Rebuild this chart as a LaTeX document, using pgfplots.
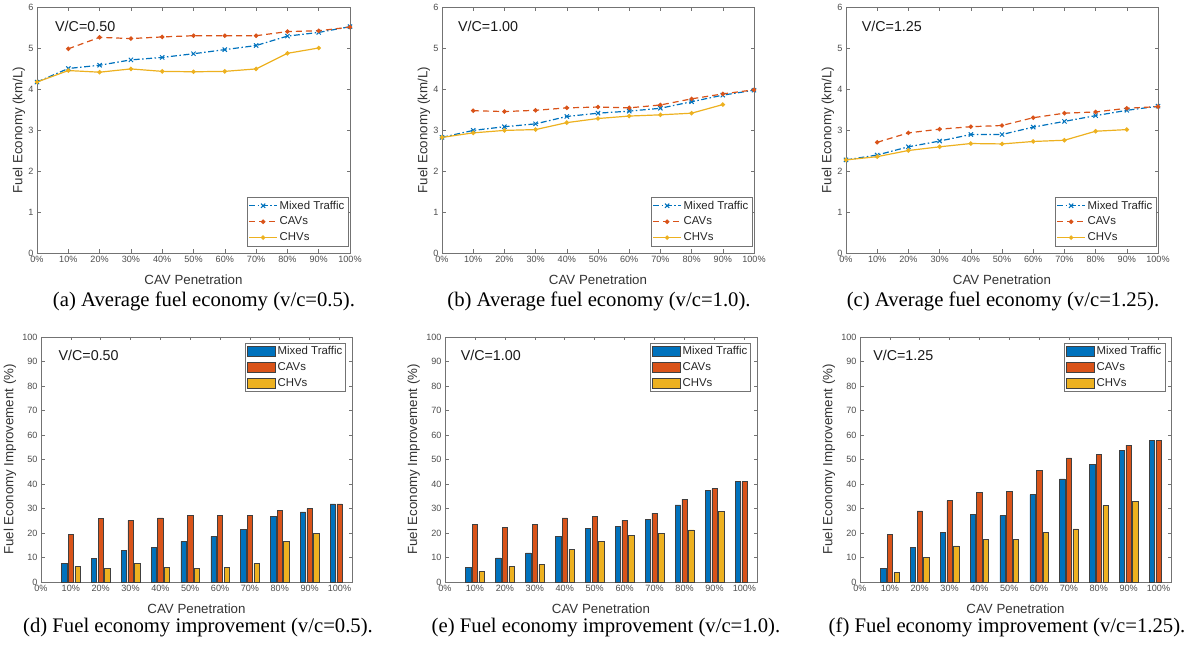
\documentclass[border=0pt]{standalone}
\usepackage{fontspec}
\setmainfont{Liberation Serif}
\newfontfamily\arial{Liberation Sans}
\usepackage{pgfplots}
\pgfplotsset{compat=1.18}

\definecolor{mblue}{rgb}{0,0.447,0.741}
\definecolor{morange}{rgb}{0.85,0.325,0.098}
\definecolor{myellow}{rgb}{0.929,0.694,0.125}

\tikzset{vclabel/.style={anchor=west, inner sep=0pt, font=\arial\fontsize{14.3}{16}\selectfont, text=black!90}}

\pgfplotsset{
  common/.style={
    scale only axis, anchor=south west, xmin=0,
    xtick={0,1,...,10},
    xticklabels={0\%,10\%,20\%,30\%,40\%,50\%,60\%,70\%,80\%,90\%,100\%},
    /pgf/number format/assume math mode=true,
    tick label style={font=\arial\fontsize{9.1}{10}\selectfont, text=black!70},
    xlabel={CAV Penetration},
    every axis x label/.style={at={(axis description cs:0.5,-0.11)}, anchor=center, font=\arial\fontsize{13.3}{15}\selectfont, text=black!80},
    axis line style={black!55, line width=0.6pt},
    tick style={black!55, line width=0.6pt},
    major tick length=3.5pt,
    legend style={font=\arial\fontsize{11.4}{13}\selectfont, text=black!85, draw=black!55, line width=0.6pt, cells={anchor=west}, inner xsep=1.5pt, inner ysep=1.5pt, row sep=2.4pt},
  },
  linep/.style={common, xmax=10, ymin=0, ymax=6, ytick={0,...,6}, height=246pt,
    ylabel={Fuel Economy (km/L)},
    every axis y label/.style={at={(axis description cs:-0.058,0.5)}, rotate=90, anchor=center, font=\arial\fontsize{13.3}{15}\selectfont, text=black!80},
    legend style={at={(rel axis cs:0.994,0.028)}, anchor=south east},
    legend image code/.code={\draw[#1,mark repeat=2,mark phase=2] plot coordinates {(0pt,0pt) (14pt,0pt) (28pt,0pt)};},
  },
  barp/.style={common, xmax=10.42, ymin=0, ymax=100, ytick={0,10,...,100}, height=245pt,
    ylabel={Fuel Economy Improvement (\%)},
    every axis y label/.style={at={(axis description cs:-0.10,0.5)}, rotate=90, anchor=center, font=\arial\fontsize{13.3}{15}\selectfont, text=black!80},
    legend style={at={(rel axis cs:0.981,0.976)}, anchor=north east},
  },
  mixed/.style={color=mblue, line width=1.2pt, dash pattern=on 6pt off 2.5pt on 1.5pt off 2.5pt, mark=x, mark size=3pt, mark options={solid, line width=1pt}},
  cav/.style={color=morange, line width=1.2pt, dash pattern=on 6pt off 4pt, mark=*, mark size=1.6pt, mark options={solid}},
  chv/.style={color=myellow, line width=1.2pt, solid, mark=*, mark size=1.6pt},
  myarealegend/.style={legend image code/.code={\draw[##1] (0pt,-5pt) rectangle (28pt,5pt);}},
  bmix/.style={ybar, bar width=0.178, bar shift=-0.222, fill=mblue, draw=black!75, line width=0.5pt, myarealegend},
  bcav/.style={ybar, bar width=0.178, bar shift=0, fill=morange, draw=black!75, line width=0.5pt, myarealegend},
  bchv/.style={ybar, bar width=0.178, bar shift=0.222, fill=myellow, draw=black!75, line width=0.5pt, myarealegend},
}

\begin{document}
\begin{tikzpicture}
\useasboundingbox (0,0) rectangle (1201pt,648pt);

% (a)
\begin{axis}[linep, at={(37pt,395pt)}, width=313pt]
\addplot[mixed] coordinates {(0,4.17)(1,4.50)(2,4.58)(3,4.71)(4,4.77)(5,4.86)(6,4.96)(7,5.06)(8,5.29)(9,5.38)(10,5.52)};
\addplot[cav] coordinates {(1,4.98)(2,5.26)(3,5.23)(4,5.27)(5,5.30)(6,5.30)(7,5.30)(8,5.40)(9,5.42)(10,5.51)};
\addplot[chv] coordinates {(0,4.17)(1,4.45)(2,4.41)(3,4.49)(4,4.43)(5,4.42)(6,4.43)(7,4.49)(8,4.87)(9,5.00)};
\legend{Mixed Traffic,CAVs,CHVs}
\node[vclabel] at (rel axis cs:0.0575,0.923) {V/C=0.50};
\end{axis}

% (b)
\begin{axis}[linep, at={(442pt,395pt)}, width=312pt]
\addplot[mixed] coordinates {(0,2.82)(1,2.99)(2,3.08)(3,3.15)(4,3.33)(5,3.41)(6,3.46)(7,3.53)(8,3.69)(9,3.85)(10,3.97)};
\addplot[cav] coordinates {(1,3.47)(2,3.45)(3,3.48)(4,3.54)(5,3.56)(6,3.54)(7,3.61)(8,3.76)(9,3.88)(10,3.98)};
\addplot[chv] coordinates {(0,2.82)(1,2.93)(2,2.99)(3,3.01)(4,3.18)(5,3.28)(6,3.34)(7,3.37)(8,3.41)(9,3.62)};
\legend{Mixed Traffic,CAVs,CHVs}
\node[vclabel] at (rel axis cs:0.051,0.923) {V/C=1.00};
\end{axis}

% (c)
\begin{axis}[linep, at={(846pt,395pt)}, width=312pt]
\addplot[mixed] coordinates {(0,2.27)(1,2.39)(2,2.59)(3,2.73)(4,2.89)(5,2.89)(6,3.07)(7,3.21)(8,3.35)(9,3.48)(10,3.58)};
\addplot[cav] coordinates {(1,2.70)(2,2.93)(3,3.02)(4,3.08)(5,3.11)(6,3.30)(7,3.41)(8,3.44)(9,3.53)(10,3.57)};
\addplot[chv] coordinates {(0,2.27)(1,2.35)(2,2.50)(3,2.59)(4,2.67)(5,2.66)(6,2.72)(7,2.75)(8,2.97)(9,3.01)};
\legend{Mixed Traffic,CAVs,CHVs}
\node[vclabel] at (rel axis cs:0.05,0.923) {V/C=1.25};
\end{axis}

% (d)
\begin{axis}[barp, at={(41pt,66pt)}, width=311pt]
\addplot[bmix] coordinates {(1,7.7)(2,9.5)(3,12.9)(4,14.2)(5,16.6)(6,18.6)(7,21.4)(8,26.7)(9,28.6)(10,31.9)};
\addplot[bcav] coordinates {(1,19.4)(2,26.1)(3,25.2)(4,26.2)(5,27.1)(6,27.1)(7,27.1)(8,29.3)(9,29.9)(10,31.9)};
\addplot[bchv] coordinates {(1,6.4)(2,5.6)(3,7.5)(4,6.1)(5,5.7)(6,6.1)(7,7.5)(8,16.7)(9,19.9)};
\legend{Mixed Traffic,CAVs,CHVs}
\node[vclabel] at (rel axis cs:0.056,0.924) {V/C=0.50};
\end{axis}

% (e)
\begin{axis}[barp, at={(445pt,66pt)}, width=312pt]
\addplot[bmix] coordinates {(1,6.1)(2,9.8)(3,11.9)(4,18.6)(5,21.8)(6,22.8)(7,25.6)(8,31.5)(9,37.3)(10,41.1)};
\addplot[bcav] coordinates {(1,23.5)(2,22.4)(3,23.5)(4,26.2)(5,26.7)(6,25.2)(7,28.1)(8,33.8)(9,38.1)(10,41.1)};
\addplot[bchv] coordinates {(1,4.2)(2,6.4)(3,7.1)(4,13.2)(5,16.7)(6,19.0)(7,19.9)(8,21.3)(9,28.9)};
\legend{Mixed Traffic,CAVs,CHVs}
\node[vclabel] at (rel axis cs:0.05,0.924) {V/C=1.00};
\end{axis}

% (f)
\begin{axis}[barp, at={(860pt,66pt)}, width=311pt]
\addplot[bmix] coordinates {(1,5.6)(2,14.0)(3,20.2)(4,27.5)(5,27.1)(6,35.7)(7,42.1)(8,47.9)(9,53.6)(10,57.7)};
\addplot[bcav] coordinates {(1,19.3)(2,29.0)(3,33.2)(4,36.6)(5,37.0)(6,45.7)(7,50.7)(8,52.0)(9,55.9)(10,57.7)};
\addplot[bchv] coordinates {(1,3.8)(2,10.0)(3,14.7)(4,17.5)(5,17.5)(6,20.4)(7,21.7)(8,31.3)(9,33.0)};
\legend{Mixed Traffic,CAVs,CHVs}
\node[vclabel] at (rel axis cs:0.042,0.924) {V/C=1.25};
\end{axis}

% captions
\begin{scope}[every node/.style={anchor=base, inner sep=0pt, font=\fontsize{20.7}{24}\selectfont}]
\node at (204pt,341pt) {(a) Average fuel economy (v/c=0.5).};
\node at (599pt,341pt) {(b) Average fuel economy (v/c=1.0).};
\node at (1003pt,341pt) {(c) Average fuel economy (v/c=1.25).};
\node at (198pt,16pt) {(d) Fuel economy improvement (v/c=0.5).};
\node at (606pt,16pt) {(e) Fuel economy improvement (v/c=1.0).};
\node at (1007pt,16pt) {(f) Fuel economy improvement (v/c=1.25).};
\end{scope}
\end{tikzpicture}
\end{document}
